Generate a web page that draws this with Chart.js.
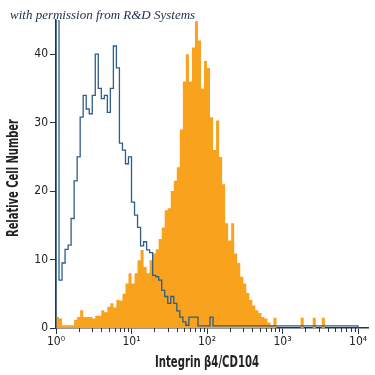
<!DOCTYPE html>
<html>
<head>
<meta charset="utf-8">
<script src="https://cdn.jsdelivr.net/npm/chart.js@4.4.1/dist/chart.umd.min.js"></script>
<style>
  html, body { margin: 0; padding: 0; background: #fff; }
  #wrap { position: relative; width: 375px; height: 375px; }
  #note {
    position: absolute; left: 10px; top: 7px;
    font: italic 13px "Liberation Serif", "DejaVu Serif", serif;
    color: #1c2b4a; white-space: nowrap;
  }
</style>
</head>
<body>
<div id="wrap">
  <canvas id="histo" width="375" height="375"></canvas>
  <div id="note">with permission from R&amp;D Systems</div>
</div>
<script>
// channel width in decades (100 channels over 10^0 .. 10^4)
const binStep = 0.04;

// isotype control (blue outline)
const isotypeCounts = [
  46, 7, 9.5, 11.5, 12.1, 16, 21.5, 25, 30.8, 34,
  32, 31.3, 34, 40, 35, 33.5, 34, 31.5, 35, 41.2,
  38, 27, 26, 24, 25, 18.4, 16.5, 14.7, 12, 12.6,
  11.4, 11, 7.7, 7.5, 7, 5.5, 4.6, 3.6, 4.6, 3.6,
  2.5, 1.6, 0.9, 0.4, 1.6, 1.6, 1.6, 0.3, 0.3, 0.3,
  0.3, 1.6, 0.3, 0.3, 0.3, 0.3, 0.3, 0.3, 0.3, 0.3,
  0.3, 0.3, 0.3, 0.3, 0.3, 0.3, 0.3, 0.3, 0.3, 0.3,
  0.3, 0.3, 0.3, 0.3, 0.3, 0.3, 0.3, 0.3, 0.3, 0.3,
  0.3, 0.3, 0.3, 0.3, 0.3, 0.3, 0.3, 0.3, 0.3, 0.3,
  0.3, 0.3, 0.3, 0.3, 0.3, 0.3, 0.3, 0.3, 0.3, 0.3
];

// Integrin beta4/CD104 stained cells (orange fill)
const cd104Counts = [
  1.6, 1.4, 0.4, 0.4, 0.4, 0.4, 1.2, 1.6, 2.6, 1.6,
  1.6, 1.6, 1.4, 1.8, 1.8, 2.6, 2.3, 3.1, 3.6, 3.0,
  4.1, 4.0, 5.0, 6.5, 8.0, 6.5, 8.0, 9.9, 11.4, 8.9,
  8.0, 9.9, 10.9, 11.5, 13, 14.7, 17.2, 17.5, 20, 21.5,
  23.5, 29, 36, 40, 36, 41, 44.8, 42, 35, 39,
  38, 30.8, 26, 30.3, 25, 21, 15.3, 12.8, 15.3, 10.9,
  9.5, 7.5, 6.5, 5.1, 4.1, 3.3, 2.6, 2.2, 1.6, 1.4,
  0.8, 0.4, 1.5, 0, 0, 0, 0, 0, 0, 0,
  0, 1.5, 0, 0, 0, 1.5, 0, 0, 1.5, 0,
  0, 0, 0, 0, 0, 0, 0, 0, 0, 0
];

const xTickLabels = ["10\u2070", "10\u00b9", "10\u00b2", "10\u00b3", "10\u2074"];
const yTicks = [0, 10, 20, 30, 40];
const xTitle = "Integrin \u03b24/CD104";
const yTitle = "Relative Cell Number";

const axisColor = "#2a3440";
const narrow = "'Liberation Sans Narrow', 'DejaVu Sans Condensed', 'Liberation Sans', sans-serif";

// histogram channels -> step points (left edge of each channel)
function toSteps(counts) {
  const pts = [{ x: 1, y: 0 }];
  counts.forEach((c, i) => pts.push({ x: Math.pow(10, i * binStep), y: c }));
  pts.push({ x: Math.pow(10, counts.length * binStep), y: 0 });
  return pts;
}

function isDecade(v) {
  const p = Math.log10(v);
  return Math.abs(p - Math.round(p)) < 1e-6;
}

// draw a bold title squeezed to a condensed look
function condensedText(ctx, text, x, y, angle, size, width) {
  ctx.save();
  ctx.font = "bold " + size + "px 'DejaVu Sans', sans-serif";
  ctx.fillStyle = "#222";
  ctx.textAlign = "center";
  ctx.textBaseline = "middle";
  ctx.translate(x, y);
  ctx.rotate(angle);
  ctx.scale(width / ctx.measureText(text).width, 1);
  ctx.fillText(text, 0, 0);
  ctx.restore();
}

// short minor ticks on the log axis + condensed axis titles
const axisExtras = {
  id: "axisExtras",
  afterDraw(chart) {
    const sx = chart.scales.x;
    const area = chart.chartArea;
    const ctx = chart.ctx;
    ctx.save();
    ctx.strokeStyle = axisColor;
    ctx.lineWidth = 1;
    sx.ticks.forEach(t => {
      if (isDecade(t.value)) return;
      const px = Math.round(sx.getPixelForValue(t.value)) + 0.5;
      ctx.beginPath();
      ctx.moveTo(px, sx.top);
      ctx.lineTo(px, sx.top + 4);
      ctx.stroke();
    });
    ctx.restore();

    condensedText(ctx, xTitle, sx.getPixelForValue(100), area.bottom + 35, 0, 16, 104);
    condensedText(ctx, yTitle, 14, (area.top + area.bottom) / 2 + 4, -Math.PI / 2, 15, 118);
  }
};

document.addEventListener("DOMContentLoaded", function () {
  const ctx = document.getElementById("histo").getContext("2d");

  new Chart(ctx, {
    type: "line",
    data: {
      datasets: [
        {
          label: "Isotype control",
          data: toSteps(isotypeCounts),
          stepped: true,
          borderColor: "#2e5d88",
          borderWidth: 1.3,
          pointRadius: 0,
          fill: false
        },
        {
          label: xTitle,
          data: toSteps(cd104Counts),
          stepped: true,
          borderWidth: 0,
          borderColor: "rgba(0,0,0,0)",
          backgroundColor: "#f8a21d",
          pointRadius: 0,
          fill: "origin"
        }
      ]
    },
    options: {
      responsive: false,
      animation: false,
      devicePixelRatio: 1,
      layout: { padding: { left: 0, right: 7, top: 20, bottom: 0 } },
      plugins: {
        legend: { display: false },
        tooltip: { enabled: false }
      },
      scales: {
        x: {
          type: "logarithmic",
          min: 1,
          max: 13550,
          afterBuildTicks: scale => {
            const ticks = [];
            for (let k = 0; k < 4; k++) {
              for (let m = 1; m <= 9; m++) ticks.push({ value: m * Math.pow(10, k) });
            }
            ticks.push({ value: 10000 });
            scale.ticks = ticks;
          },
          afterFit: scale => { scale.height = 47; },
          border: { color: axisColor, width: 1.5 },
          grid: {
            drawOnChartArea: false,
            tickLength: 6,
            tickColor: c => (c.tick && isDecade(c.tick.value) ? axisColor : "rgba(0,0,0,0)")
          },
          ticks: {
            autoSkip: false,
            maxRotation: 0,
            padding: 1,
            color: "#222",
            font: { family: narrow, size: 12 },
            callback: v => (isDecade(v) ? xTickLabels[Math.round(Math.log10(v))] : "")
          }
        },
        y: {
          min: 0,
          max: 45,
          afterBuildTicks: scale => { scale.ticks = yTicks.map(v => ({ value: v })); },
          afterFit: scale => { scale.width = 56; },
          border: { color: axisColor, width: 1.5 },
          grid: { drawOnChartArea: false, tickLength: 6, tickColor: axisColor },
          ticks: {
            padding: 2,
            color: "#222",
            font: { family: narrow, size: 12 }
          }
        }
      }
    },
    plugins: [axisExtras]
  });
});
</script>
</body>
</html>
